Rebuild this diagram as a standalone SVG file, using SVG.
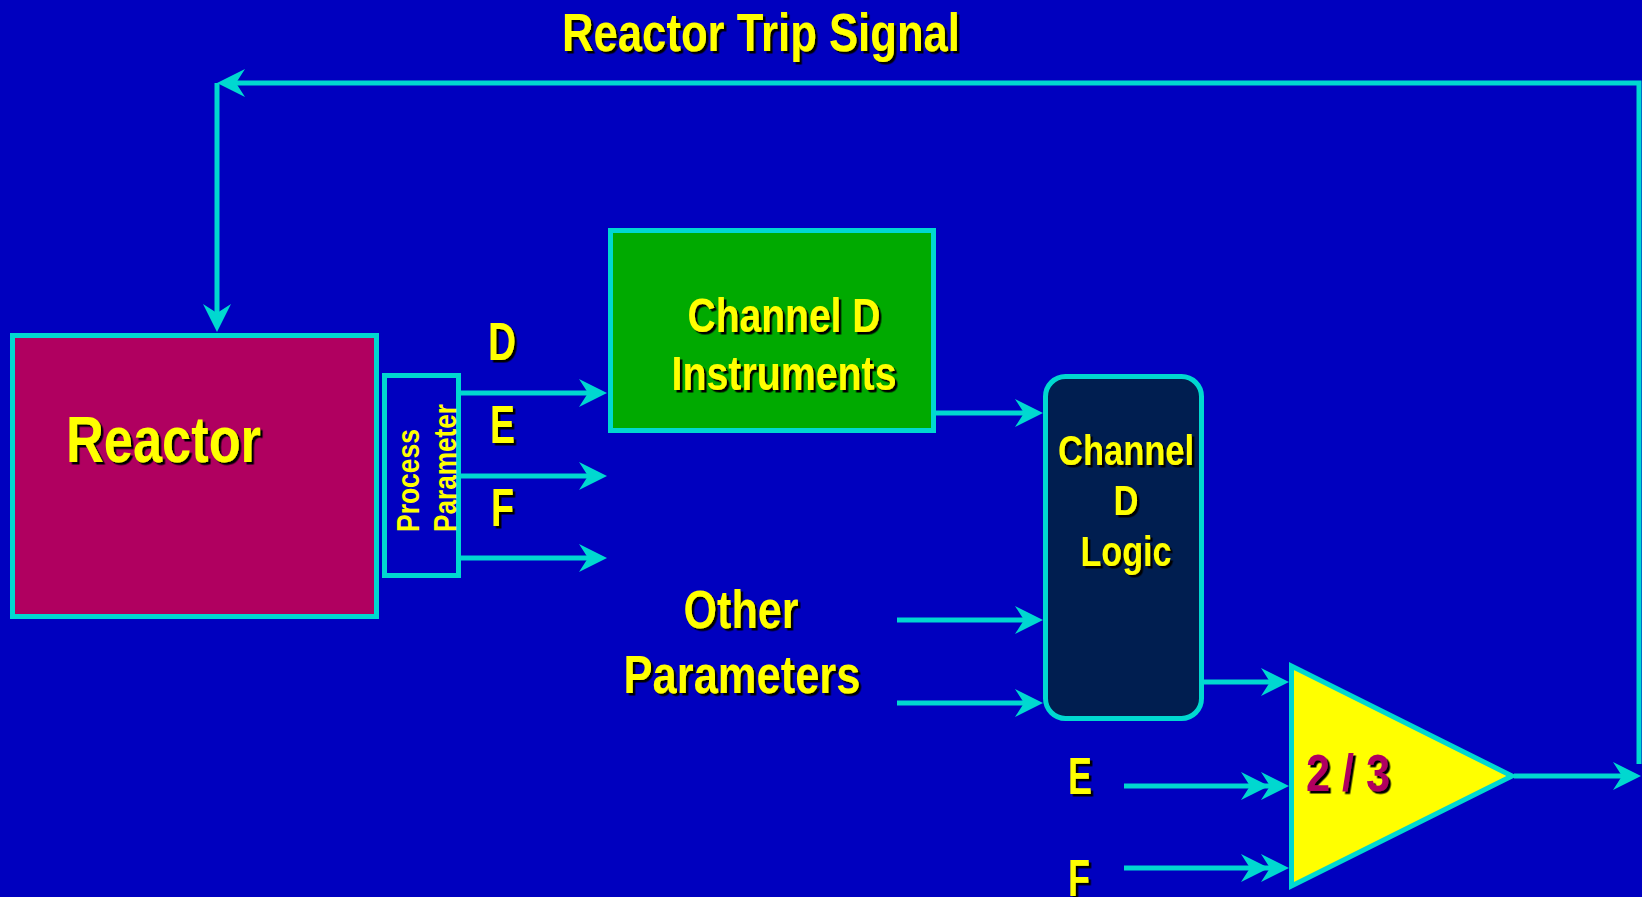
<svg xmlns="http://www.w3.org/2000/svg" width="1642" height="897" viewBox="0 0 1642 897">
<defs>
<style>
.t{font-family:"Liberation Sans Narrow","Liberation Sans",Arial,sans-serif;font-weight:bold;fill:#ffff00;}
.sh{filter:url(#shadow);}
.c{text-anchor:middle;}
.ln{fill:none;stroke:#00d8d0;stroke-width:5;}
.box{stroke:#00d8d0;stroke-width:5;}
</style>
<filter id="shadow" x="-10%" y="-10%" width="130%" height="140%">
<feDropShadow dx="2.5" dy="2.5" stdDeviation="0" flood-color="#000000" flood-opacity="1"/>
</filter>
<marker id="arr" markerUnits="userSpaceOnUse" orient="auto" refX="-10" refY="0" markerWidth="60" markerHeight="40" viewBox="-50 -20 60 40" overflow="visible">
<path d="M0,0 L-28,-14 L-19,0 L-28,14 Z" fill="#00d8d0"/>
</marker>
<marker id="arr2" markerUnits="userSpaceOnUse" orient="auto" refX="-10" refY="0" markerWidth="70" markerHeight="40" viewBox="-60 -20 70 40" overflow="visible">
<path d="M0,0 L-28,-14 L-19,0 L-28,14 Z M-20,0 L-48,-14 L-39,0 L-48,14 Z" fill="#00d8d0"/>
</marker>
</defs>
<rect x="0" y="0" width="1642" height="897" fill="#0000bf"/>

<text class="t sh c" x="761" y="51" font-size="54" textLength="398" lengthAdjust="spacingAndGlyphs">Reactor Trip Signal</text>

<g id="connectors">
<path class="ln" d="M1639,764 V83 H227" marker-end="url(#arr)"/>
<path class="ln" d="M217,83 V322" marker-end="url(#arr)"/>
<path class="ln" d="M461,393 H597" marker-end="url(#arr)"/>
<path class="ln" d="M461,476 H597" marker-end="url(#arr)"/>
<path class="ln" d="M461,558 H597" marker-end="url(#arr)"/>
<path class="ln" d="M936,413 H1033" marker-end="url(#arr)"/>
<path class="ln" d="M897,620 H1033" marker-end="url(#arr)"/>
<path class="ln" d="M897,703 H1033" marker-end="url(#arr)"/>
<path class="ln" d="M1204,682 H1279" marker-end="url(#arr)"/>
<path class="ln" d="M1124,786 H1279" marker-end="url(#arr2)"/>
<path class="ln" d="M1124,868 H1279" marker-end="url(#arr2)"/>
<path class="ln" d="M1514,776 H1631" marker-end="url(#arr)"/>
</g>

<g id="reactor">
<rect class="box" x="12.5" y="335.5" width="364" height="281" fill="#b00060"/>
<text class="t sh" x="66" y="462" font-size="64" textLength="195" lengthAdjust="spacingAndGlyphs">Reactor</text>
</g>

<g id="process-parameter">
<rect class="box" x="384.5" y="375.5" width="74" height="200" fill="#0000bf"/>
<text class="t" x="419" y="532" font-size="32" transform="rotate(-90 419 532)" textLength="103" lengthAdjust="spacingAndGlyphs">Process</text>
<text class="t" x="456" y="532" font-size="32" transform="rotate(-90 456 532)" textLength="128" lengthAdjust="spacingAndGlyphs">Parameter</text>
</g>

<g id="labels-def">
<text class="t sh" x="488" y="360" font-size="54" textLength="28" lengthAdjust="spacingAndGlyphs">D</text>
<text class="t sh" x="490" y="443" font-size="54" textLength="25" lengthAdjust="spacingAndGlyphs">E</text>
<text class="t sh" x="491" y="526" font-size="54" textLength="23" lengthAdjust="spacingAndGlyphs">F</text>
</g>

<g id="channel-d-instruments">
<rect class="box" x="610.5" y="230.5" width="323" height="200" fill="#00aa00"/>
<text class="t sh c" x="784" y="332" font-size="48" textLength="193" lengthAdjust="spacingAndGlyphs">Channel D</text>
<text class="t sh c" x="784" y="390" font-size="48" textLength="225" lengthAdjust="spacingAndGlyphs">Instruments</text>
</g>

<g id="other-parameters">
<text class="t sh c" x="741" y="628" font-size="53" textLength="115" lengthAdjust="spacingAndGlyphs">Other</text>
<text class="t sh c" x="742" y="693" font-size="53" textLength="237" lengthAdjust="spacingAndGlyphs">Parameters</text>
</g>

<g id="channel-d-logic">
<rect class="box" x="1045.5" y="376.5" width="156" height="342" rx="20" ry="20" fill="#001e50"/>
<text class="t sh c" x="1126" y="465" font-size="42" textLength="136" lengthAdjust="spacingAndGlyphs">Channel</text>
<text class="t sh c" x="1126" y="515" font-size="42" textLength="25" lengthAdjust="spacingAndGlyphs">D</text>
<text class="t sh c" x="1126" y="566" font-size="42" textLength="91" lengthAdjust="spacingAndGlyphs">Logic</text>
</g>

<g id="labels-ef">
<text class="t sh" x="1068" y="794" font-size="52" textLength="24" lengthAdjust="spacingAndGlyphs">E</text>
<text class="t sh" x="1068" y="896" font-size="52" textLength="22" lengthAdjust="spacingAndGlyphs">F</text>
</g>

<g id="voter">
<polygon class="box" points="1291.5,666 1291.5,886 1512,776" fill="#ffff00" stroke-linejoin="miter"/>
<text class="t sh" x="1306" y="791" font-size="52" style="fill:#b00060" textLength="84" lengthAdjust="spacingAndGlyphs">2 / 3</text>
</g>
</svg>
